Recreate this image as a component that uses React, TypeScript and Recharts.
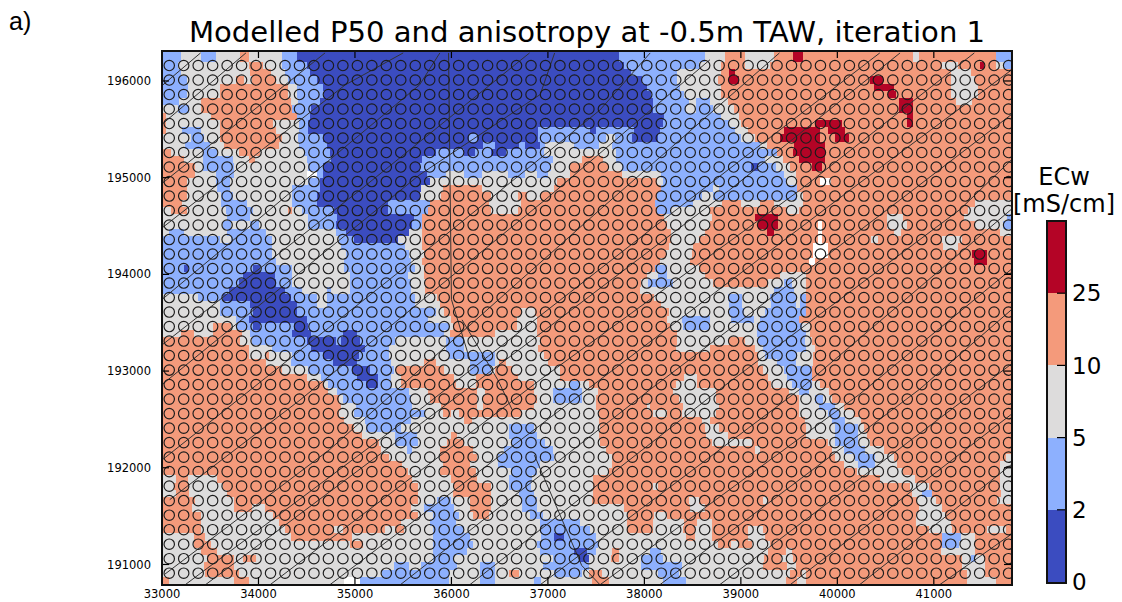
import { ReferenceArea, Scatter, ScatterChart, XAxis, YAxis } from 'recharts'

const xTicks = [33000, 34000, 35000, 36000, 37000, 38000, 39000, 40000, 41000]
const yTicks = [191000, 192000, 193000, 194000, 195000, 196000]
const xDomain = [33000, 41800]
const yDomain = [190798, 196310]

// Sample points, the open circles
const gridEast = [
  33075, 33225, 33375, 33525, 33675, 33825, 33975, 34125, 34275, 34425, 34575, 34725, 34875, 35025, 35175, 35325,
  35475, 35625, 35775, 35925, 36075, 36225, 36375, 36525, 36675, 36825, 36975, 37125, 37275, 37425, 37575, 37725,
  37875, 38025, 38175, 38325, 38475, 38625, 38775, 38925, 39075, 39225, 39375, 39525, 39675, 39825, 39975, 40125,
  40275, 40425, 40575, 40725, 40875, 41025, 41175, 41325, 41475, 41625, 41775,
]
const gridNorth = [
  196160, 196010, 195860, 195710, 195560, 195410, 195260, 195110, 194960, 194810, 194660, 194510, 194360, 194210,
  194060, 193910, 193760, 193610, 193460, 193310, 193160, 193010, 192860, 192710, 192560, 192410, 192260, 192110,
  191960, 191810, 191660, 191510, 191360, 191210, 191060, 190910,
]

const classColors: Record<string, string> = {
  a: '#3b4cc0',
  b: '#8db0fe',
  c: '#dddcdc',
  d: '#f49a7b',
  e: '#b40426',
  w: '#ffffff',
}

// One line per half grid row, top to bottom. Each token is a class and the grid column where that class stops.
const mapRows = [
  'b.8 c2.2 b3.2 c4.9 d5.5 c7.8 b8.8 a31.1 b37 c38.4 d39.8 c41.8 d43.1 e43.8 d51.4 c51.8 d53.4 d57.1 b58.3',
  'b.6 c5.5 d6.5 c7.8 b9.5 a31.4 b36.6 c38.1 d39.8 c41.5 d53.4 c54.5 d56 e56.3 d57.1 c57.7 b58.3',
  'b.8 c5.6 d7 c8 b9.7 a31.9 b35.1 c38.1 d38.7 e39.1 d54 c55.4 d58.3',
  'b1.2 c4.6 d5.2 c5.7 d7.4 c8.2 b10.2 a32.7 b35.1 c37.9 d38.7 e39.4 d48.4 e49.3 d54 c55.7 d58.3',
  'b1.3 c3.5 d8.2 c8.8 b10.6 a33 b35.3 c38.1 d48.7 e50.1 d54 c55.9 d58.3',
  'b1.2 c3.5 d8.2 c8.8 b10.7 a33.3 b35.6 c38.1 d49.7 e50.2 d54 c55.9 d58.3',
  'b.7 c2.2 d8.4 c8.9 b10.4 a33.4 b35.9 c36.4 b37.4 c38.6 d50.4 e51.4 d54.4 c55.5 d58.3',
  'c.6 b1.4 c2.2 d8.5 b9.8 a33.4 b35.7 c36.4 b37.6 c39 d50.4 e51.4 d58.3',
  'd-.2 c2.9 d8.8 b9.7 a34.2 b38.1 c39.4 d51 e51.4 d58.3',
  'd-.2 c3.5 d7.2 c9 b9.6 a34.1 b38.7 c39.5 d44.6 e46.5 d51 e51.4 d58.3',
  'd-.2 c.9 b2.2 c3.5 d7.4 c9 b9.6 a25.5 b29.1 a29.5 b32.1 a33.9 b39.1 c40 d42.5 e45 d45.5 e46.7 d58.3',
  'c1.5 b2.4 c3.5 d7.8 c8.9 b10.6 a20.7 b21.3 a25.5 b30.2 c30.8 b32 a33.8 b39.5 c40.5 d42.2 e45 d46 e47 d58.3',
  'c1.1 b2.8 c3.8 d7.6 c9 b10.9 a21.7 b22.5 a24.2 b24.6 a25.6 b26 c28 b29.7 c30.6 b40.8 c41.3 d43.2 e45.3 d58.3',
  'd.1 c2.3 b3.3 c4.8 d6.3 c9.3 b11.1 a18.4 b20.4 a21.1 b22.2 a23.3 b25.9 c30.9 b42 d43.1 e45.3 d58.3',
  'd1 c2.3 b4.4 c5.5 d5.9 c9.5 b11.2 a17.5 b26.5 c28.5 d30 c30.9 b41.2 c42.4 d43.5 e45.3 d58.3',
  'd1.8 c2.3 b4.5 c9.6 b10.6 a17.3 b26.4 c27.7 d30.3 c31.3 b40.2 a40.7 b41.9 c42.9 d44.4 e45.1 d58.3',
  'd1.8 c3.2 b4.5 c9.5 w10.2 b10.6 a17.8 b19.1 c20.4 b21.6 c23.4 b24.6 c25.4 b26.2 c27.7 d31.3 c34 b42.5 c43.3 d58.3',
  'd1.2 c3.2 b4.2 c9.6 b10.4 a18 c26.8 d33.7 c34.1 b42.6 c43.4 d45 w45.7 d58.3',
  'd1.2 c3.3 b4.2 c8.5 b10.4 a17.4 c18.9 d21.6 c26.6 d34 b37.6 c38 b43.4 d58.3',
  'd1.2 c3.6 b4.4 c8.5 b10.2 a17.3 c18.8 d22.2 c24.1 d24.7 c25.7 d33.7 b36.8 c37.6 b43.4 c43.8 d58.3',
  'd.9 c3.6 b5.4 c8.5 b10.2 a15.1 b18 d22.1 c24.3 d33.6 b36.2 c38.2 d39.5 c40.8 d41.8 c43.8 d55.7 c58.3',
  'c.1 d1.2 c3.9 b5.8 c8.2 d8.5 c9.2 b11.4 a15.1 b17.9 d22.2 c24.1 d33.7 b34.7 c37.4 d42.7 c43.5 d55.2 c58.3',
  'c4 b5.6 c9.6 b11.6 a16.9 b17.5 d34.2 c37.5 d40.5 e42.1 d49.6 c50.7 d54.9 c57.9 b58.3',
  'c3.7 b4.3 c5.6 b6.2 c9.6 b11.5 a16.8 b17.5 d34.4 c37.4 d40.7 e42.1 d44.8 w45.1 d49.6 c51 d55.7 c57.6 b58.3',
  'c0 b1 c4 b6.7 c11.5 b12.2 a16.6 c17.5 d34.7 c37 d41.3 e41.8 d44.8 w45.1 d50.1 c50.6 d57.4 c58.3',
  'b3.5 c4.3 b7.1 c11.7 b12.8 a15.8 c17.5 d34.7 c36.6 d44.8 w45.1 d48.5 c49 d53.4 c54.8 d58.3',
  'b7.1 c11.9 b16.3 c17.5 d34.5 c36.2 d44.5 w45.5 d53.5 c54.5 d58.3',
  'b7.1 c12.2 b16.6 c17.6 d34.3 c36.1 d44.5 w45.5 d55.5 e56.5 d58.3',
  'b7.4 c12.1 b16.7 c17.5 d33.9 c36 d44.2 w44.6 d55.6 e56.5 d58.3',
  'b1 a1.3 b5.8 a6.3 b8.5 c12.1 b17 c17.6 d33.6 b34.4 c36.6 d58.3',
  'b5.1 a7.3 b8.5 c12.5 b16.5 c17.6 d33 c33.8 b34.4 c37 d42.2 c44 d58.3',
  'b4.8 a7.4 b8.5 c12.5 b16.7 c17.7 d32.6 c33.1 b34.8 c37.6 d41.4 c42.5 b43 c44 d58.3',
  'b4.1 a8 b9.2 c10.9 b11.2 c12.5 b16.7 c17.7 d32.5 c41.8 b43.2 c44 d58.3',
  'c2 b3.7 a8.4 b10.2 c10.9 b17 c18.5 d33.5 c38.6 b39.6 c41.5 b43.3 c43.6 b44 d58.3',
  'c3.5 b5.6 a8.8 b10.2 c10.9 b17 c18.7 d34 c38.7 b39.6 c41.6 b43.3 c43.6 b44 d58.3',
  'c3.5 b5.8 a8.8 b18.4 c19 d24.3 c25.3 d34.5 c38.7 b39.7 c41.2 b43.3 b44 d58.3',
  'c4.6 b5.5 a9.5 b17.9 c19.5 d24 c25.4 d34.4 c35.4 b37.4 c38.8 b40.4 c40.8 b43.5 d58.3',
  'c3 d4.3 c4.7 b5.8 a6.3 b8.6 a9.6 b19.3 c19.6 d24 c25.4 d34.6 c35.5 b37.3 c40.6 b43.7 c44.3 d58.3',
  'c.8 d1.7 c3 d5 c5.6 b8.5 a9.8 b12 a13 b19 c19.4 d22.5 c25.4 d35.1 c40.6 b44 c44.3 d58.3',
  'd4.9 c5.7 b9.5 a11.5 b11.9 a13.2 b15.6 c19.1 b20.4 c25.6 d35.1 c38.7 d39.8 c40.7 b43.9 c44.4 d58.3',
  'd5.5 c7.1 b9.8 a13.5 b15.2 c19.1 b20.4 c25.5 d35 c37.4 d40.5 c41 b44 c44.6 d58.3',
  'd5.5 c6.6 d6.9 c8.5 b10.6 a13.1 b15.2 c19.3 b22.5 c25.9 d40.7 c41.2 b43.4 c44.5 d58.3',
  'd6.7 c8.4 b11.3 a13 b15.3 c17.6 d18.4 c20.8 b22.5 c22.8 d23.3 c26.2 d40.7 c42 b43.3 c44.5 d58.3',
  'd7.8 c9.6 b12.6 a13.9 b15.5 c15.7 d19 c20.8 b22.2 c22.5 d23.7 c27 d41 c42.5 b44.4 d58.3',
  'd9.5 c10.5 b13 a14.4 b15.3 c16 d19.7 c21.2 d24.1 c27 d35.6 c36.5 d41.4 c42.7 b44.4 d58.3',
  'd10.7 c11 b13.6 a14.4 b15.3 c16 d19.8 c21.2 d25.2 c27.7 b28.4 c29 d35 c36.5 d41.6 c43 b44.4 c45 d58.3',
  'd11 c11.6 b16.6 c17.9 d21.3 c21.8 d25.2 c26.5 b28.5 c29.6 d34.8 c37.8 d42.8 c43.5 b44.2 c45.6 d58.3',
  'd11.7 c12 b16.7 c18 d21.3 c21.7 d25.4 c26.5 b28.5 c29.5 d35.2 c37.8 d43.5 c44.6 b45.2 c45.8 d58.3',
  'd11.9 c12.9 b16.8 c18.8 d21.3 c21.7 d25.2 c29.5 d33 c33.2 d35.5 c38 d43.5 c44.9 b46 c46.6 d58.3',
  'd11.7 c12.8 b17.7 c18.9 d19.5 c20 d24.3 c29.7 d33.4 c34.4 d35.4 c37.8 d43.5 c45.5 b46.3 c47.3 d58.3',
  'd12.1 c13.5 b16.7 c20.4 d20.9 c29.7 d36.8 c37.4 d43.9 c45.8 b46.7 c47.8 d58.3',
  'd12.8 c13.6 b16 c23.5 b25.2 c29.8 d37 c38 d44 c46 b47.6 c48 d58.3',
  'd13.3 c15.6 b17.1 c19.5 d19.9 c23.5 b25.4 c29.7 d37.1 c38.6 d44 c46 b47.6 c48.2 d58.3',
  'd14.5 c15.6 b17.2 c19.2 d20.4 c23.7 b26 c29.8 d37.5 c40.3 d45.5 c46 b47.6 c48.4 d58.3',
  'd14.6 c16.4 b16.8 c18.7 d21 c23.1 b26.5 c30.2 d40.5 c40.8 d45.8 c46.6 b48.1 c49.4 d58.3',
  'd15.2 c18.7 d21.3 c22.7 b26.6 c30.6 d46 c47.4 b48.8 c50.1 d57.8 c58.3',
  'd16.1 c18.9 d20.8 c22.7 b25.6 c30.6 d46.6 c47.6 b48.8 c50.3 d57.4 c58.3',
  'd16.5 c18.7 d21.2 c23.6 b25.4 c30.4 d47.5 c50.7 d57.4 c58.3',
  'c.5 d1.3 c3.3 d16.8 c19.5 d21.3 c23.5 b25.1 c29.3 d49.1 c51.5 d57.4 c58.3',
  'c.3 d1.4 c3.7 d17.2 c19.7 d22.2 c23.5 b25 c29.3 d33.4 c33.8 d51.2 c52.5 d57.4 c58.3',
  'c.5 d1.4 c4 d17.2 c19.6 d22.2 c24.2 b25.2 c29.3 d51.3 c52 b52.7 d57.5 c58.3',
  'd1.8 c4.5 d17.2 c18.5 b19.5 c20.8 d22.2 c24.4 b25.4 c29.2 d35.9 c36.6 d41 c41.4 d51.7 c53 d57.2 c58.3',
  'd1.6 c4.5 d5.7 c6.6 d16.7 c17.6 b19.7 c20.8 d22.2 c24.4 b25.4 c31.4 d36 c37 d51.8 c53.4 d58.3',
  'd2.2 c7.2 d17.2 c18.2 b20 c21 d22.1 c24.9 b25.8 c31.7 d33.5 c34.4 d51.6 c53.6 d58.3',
  'd2.2 c7.6 d16 c18 b19.8 c25.6 b28.4 c31.6 d33.4 c35.6 d36.5 c37.5 d51.6 c54 d58.3',
  'd2.2 c8 d11.4 c12 d14.9 c15.6 d16.2 c18.2 b20.4 c25.6 b29.1 c31.6 d33.4 c35.5 d36.3 c37.5 d40 c41 d52.5 c54.1 d56.5 c57.8 d58.3',
  'c1.7 d2.5 c8.4 d12.6 c18.2 b20.8 c25.7 b26.6 a27.3 b29.5 c35.7 d36.3 c37.5 d40 c41.2 d53.4 b54.7 c55.7 d58.3',
  'c1.7 d2.9 c12.5 d13.4 c18.2 b21 c25.4 b29.6 c37.9 d38.8 c39.3 d40.3 c41.5 d53.4 b54.6 c55.7 d58.3',
  'c2.2 d3.3 c18.2 b20.6 c25.6 b28 a28.9 b29.5 c30.6 d31.1 c33.2 b34 c41.4 d42.6 c43 d53.3 c55.7 d58.3',
  'c2.6 d4.5 c5.1 d6 c18.2 b19.7 c26.5 b28.3 a29 c30.5 d31.1 c32.6 b34.1 c41.1 d42.3 c43.1 d54.8 c55.4 b55.7 c56.4 d58.3',
  'c2.4 d4.5 c15.5 b16.6 c17.4 b19.9 c21.5 b22.5 c25.8 b29 c32.6 b35.4 c41 d42.7 c43.3 d54.8 c56.4 d58.3',
  'c2.5 d4.8 c14.7 b19.3 c21.5 b22.5 c23.5 d24.2 c26.6 b28.5 c29 d29.9 c33.8 b35.2 c42.9 d43.7 c44 d55.1 c56.4 d58.3',
  'd0 c4.5 d5.5 c12.1 w13.2 b19.3 c21.5 b22.5 c25.2 b25.7 c29.2 d30.4 c34.1 b35.7 c42.6 d43.4 c44 d55.1 c57.1 d58.3',
]

// Survey tracks as [east, north] vertices
const tracks = [
  [[33010, 195960], [33400, 196290]],
  [[33010, 195560], [33870, 196290]],
  [[33000, 194940], [34690, 196290]],
  [[33000, 194480], [34900, 195960], [35500, 196290]],
  [[33000, 193740], [35670, 195960], [35880, 196290]],
  [[33000, 193270], [35050, 194870], [36810, 196290]],
  [[33000, 192860], [35670, 195030], [36920, 195860], [37070, 196290]],
  [[33000, 192080], [35880, 194360], [37540, 195700], [38060, 196290]],
  [[33080, 191670], [34430, 192700], [36970, 194770], [38680, 196220]],
  [[33030, 190900], [34740, 192190], [37540, 194670], [39400, 196290]],
  [[33240, 190790], [35670, 192600], [38060, 194460], [40440, 196290]],
  [[33450, 190790], [36290, 192910], [38880, 194870], [40650, 196290]],
  [[34120, 190790], [36920, 192910], [39610, 194870], [41420, 196290]],
  [[34740, 190790], [37540, 192910], [40130, 194870], [41800, 196110]],
  [[35470, 190790], [38060, 192810], [40650, 194770], [41800, 195650]],
  [[36190, 190790], [38780, 192810], [41270, 194670], [41800, 195180]],
  [[36920, 190790], [39610, 192810], [41800, 194670]],
  [[37540, 190790], [40230, 192760], [41800, 194050]],
  [[38160, 190790], [40850, 192810], [41800, 193630]],
  [[38780, 190790], [41800, 193070]],
  [[39510, 190790], [41800, 192550]],
  [[40230, 190790], [41800, 192030]],
  [[41060, 190790], [41800, 191310]],
  [[35970, 196290], [36000, 193740], [36190, 193120]],
  [[36110, 193530], [36480, 192910], [36630, 192600]],
  [[36860, 192130], [37350, 190990], [37540, 190790]],
]

const colorBarLabels = ['0', '2', '5', '10', '25']
const colorBarTicks = [0, 1, 2, 3, 4]
const colorBarFills = ['#3b4cc0', '#8db0fe', '#dddcdc', '#f49a7b', '#b40426']
const colorBarMarks = [1, 2, 3, 4].map(level => ({ pos: 1, level }))

const samplePoints = gridNorth.flatMap(north => gridEast.map(east => ({ east, north })))

// Inward tick marks, one list for each side of the map
const bottomMarks = xTicks.map(east => ({ east, north: yDomain[0] }))
const topMarks = xTicks.map(east => ({ east, north: yDomain[1] }))
const leftMarks = yTicks.map(north => ({ east: xDomain[0], north }))
const rightMarks = yTicks.map(north => ({ east: xDomain[1], north }))

// Turn the row tokens into bands in map coordinates
const mapCells = mapRows.flatMap((row, i) => {
  const r = (i - 1) / 2
  const rowNorth = (v: number) => gridNorth[0] - 150 * v
  const y2 = i === 0 ? yDomain[1] : rowNorth(r - 0.25)
  const y1 = i === mapRows.length - 1 ? yDomain[0] : rowNorth(r + 0.25)
  let start = xDomain[0]
  const cells: { x1: number; x2: number; y1: number; y2: number; cls: string }[] = []
  for (const token of row.split(' ')) {
    const end = Math.min(xDomain[1], gridEast[0] + 150 * Number.parseFloat(token.slice(1)))
    if (end > start) {
      cells.push({ x1: start, x2: end, y1, y2, cls: token[0] })
      start = end
    }
  }
  return cells
})

type MarkProps = { cx?: number; cy?: number }

const SampleCircle = ({ cx, cy }: MarkProps) => (
  <circle cx={cx} cy={cy} r={5.2} fill="none" stroke="#1c1c1c" strokeWidth={1.15} />
)

const NoMarker = () => null

// A short black stroke that starts at the point and runs dx, dy pixels
const tickMark = (dx: number, dy: number) => {
  const TickMark = ({ cx = 0, cy = 0 }: MarkProps) => (
    <line x1={cx} y1={cy} x2={cx + dx} y2={cy + dy} stroke="#000" strokeWidth={1.2} />
  )
  return TickMark
}

const tickStyle = { fontSize: 11.5, fill: '#000', fontFamily: 'DejaVu Sans' }

export default function App() {
  return (
    <div
      style={{
        position: 'absolute',
        left: 0,
        top: 0,
        width: 1122,
        height: 602,
        background: '#fff',
        overflow: 'hidden',
        fontFamily: 'DejaVu Sans',
        color: '#000',
      }}
    >
      <ScatterChart width={1122} height={602} margin={{ top: 51, right: 111, left: 0, bottom: 0 }}>
        <XAxis
          type="number"
          dataKey="east"
          domain={xDomain}
          ticks={xTicks}
          height={18}
          allowDataOverflow
          interval={0}
          tick={tickStyle}
          tickSize={0}
          tickMargin={6}
          axisLine={false}
          tickLine={false}
        />
        <YAxis
          type="number"
          dataKey="north"
          domain={yDomain}
          ticks={yTicks}
          width={162}
          allowDataOverflow
          interval={0}
          tick={tickStyle}
          tickSize={0}
          tickMargin={11}
          axisLine={false}
          tickLine={false}
        />
        {mapCells.map(cell => (
          <ReferenceArea
            key={`${cell.y1}-${cell.x1}`}
            x1={cell.x1}
            x2={cell.x2}
            y1={cell.y1}
            y2={cell.y2}
            fill={classColors[cell.cls]}
            fillOpacity={1}
            stroke="none"
            shapeRendering="crispEdges"
          />
        ))}
        {tracks.map(track => (
          <Scatter
            key={track[0].join('-')}
            data={track.map(([east, north]) => ({ east, north }))}
            line={{ stroke: '#333333', strokeWidth: 1 }}
            lineType="joint"
            shape={NoMarker}
            isAnimationActive={false}
          />
        ))}
        <Scatter data={samplePoints} shape={SampleCircle} isAnimationActive={false} />
        <Scatter data={bottomMarks} shape={tickMark(0, -7)} isAnimationActive={false} />
        <Scatter data={topMarks} shape={tickMark(0, 7)} isAnimationActive={false} />
        <Scatter data={leftMarks} shape={tickMark(7, 0)} isAnimationActive={false} />
        <Scatter data={rightMarks} shape={tickMark(-7, 0)} isAnimationActive={false} />
      </ScatterChart>

      {/* axes frame */}
      <div
        style={{
          position: 'absolute',
          left: 161,
          top: 50,
          width: 848,
          height: 532,
          border: '2px solid #111',
          pointerEvents: 'none',
        }}
      />

      <div style={{ position: 'absolute', left: 9, top: 7, fontFamily: 'Liberation Sans', fontSize: 25 }}>a)</div>
      <div
        style={{
          position: 'absolute',
          left: 62,
          width: 1050,
          top: 15,
          textAlign: 'center',
          fontSize: 29.1,
          lineHeight: '34px',
          whiteSpace: 'nowrap',
        }}
      >
        Modelled P50 and anisotropy at -0.5m TAW, iteration 1
      </div>
      <div
        style={{
          position: 'absolute',
          left: 1000,
          width: 128,
          top: 164,
          textAlign: 'center',
          fontSize: 24,
          lineHeight: '27px',
        }}
      >
        ECw
        <br />
        [mS/cm]
      </div>

      <div style={{ position: 'absolute', left: 1000, top: 200 }}>
        <ScatterChart width={122} height={402} margin={{ top: 21, right: 0, left: 47, bottom: 20 }}>
          <XAxis type="number" dataKey="pos" domain={[0, 1]} hide />
          <YAxis
            orientation="right"
            type="number"
            dataKey="level"
            domain={[0, 5]}
            ticks={colorBarTicks}
            width={57}
            interval={0}
            tickFormatter={(v: number) => colorBarLabels[v]}
            tick={{ fontSize: 23, fill: '#000', fontFamily: 'DejaVu Sans' }}
            tickSize={0}
            tickMargin={7}
            axisLine={false}
            tickLine={false}
          />
          {colorBarFills.map((fill, i) => (
            <ReferenceArea
              key={fill}
              x1={0}
              x2={1}
              y1={i}
              y2={i + 1}
              fill={fill}
              fillOpacity={1}
              stroke="none"
              shapeRendering="crispEdges"
            />
          ))}
          <Scatter data={colorBarMarks} shape={tickMark(-8, 0)} isAnimationActive={false} />
        </ScatterChart>
      </div>
      <div
        style={{
          position: 'absolute',
          left: 1046,
          top: 220,
          width: 17,
          height: 360,
          border: '2px solid #111',
          pointerEvents: 'none',
        }}
      />
    </div>
  )
}
